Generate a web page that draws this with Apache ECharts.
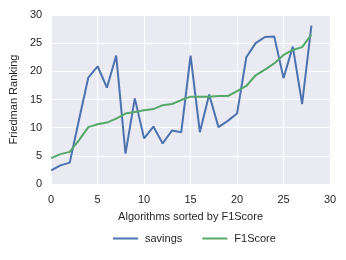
<!DOCTYPE html>
<html><head><meta charset="utf-8">
<script src="https://cdn.jsdelivr.net/npm/echarts@6/dist/echarts.min.js"></script>
<style>html,body{margin:0;padding:0;background:#fff}#c{width:346px;height:260px}</style>
</head><body><div id="c"></div>
<script>
const xValues = [0,1,2,3,4,5,6,7,8,9,10,11,12,13,14,15,16,17,18,19,20,21,22,23,24,25,26,27,28];
const savings = [2.4,3.3,3.8,11.4,18.9,20.9,17.1,22.8,5.4,15.2,8.1,10.2,7.2,9.5,9.2,22.8,9.2,15.9,10.1,11.2,12.5,22.5,25.0,26.1,26.2,18.8,24.4,14.2,28.1];
const f1score = [4.6,5.3,5.7,7.8,10.1,10.6,10.9,11.6,12.5,12.8,13.1,13.3,14.0,14.2,14.9,15.5,15.5,15.5,15.6,15.6,16.5,17.4,19.3,20.3,21.4,22.9,23.8,24.3,26.5];
const seriesNames = ['savings','F1Score'];
const xName = 'Algorithms sorted by F1Score';
const yName = 'Friedman Ranking';

const font = 'Liberation Sans, Arial, sans-serif';
const chart = echarts.init(document.getElementById('c'), null, {renderer:'canvas'});
chart.setOption({
  animation:false,
  backgroundColor:'#fff',
  grid:{left:50,right:16,top:15,bottom:76,show:true,backgroundColor:'#EAEAF2',borderWidth:0},
  legend:{top:228,left:108,itemWidth:25,itemHeight:2,itemGap:20,icon:'rect',
    textStyle:{fontFamily:font,fontSize:11,color:'#262626',padding:[0,0,0,2]},data:seriesNames},
  xAxis:{type:'value',min:0,max:30,interval:5,name:xName,nameLocation:'middle',nameGap:27,
    nameTextStyle:{fontFamily:font,fontSize:11,color:'#262626'},
    axisLine:{show:false},axisTick:{show:false},
    axisLabel:{fontFamily:font,fontSize:11,color:'#262626',margin:10},
    splitLine:{lineStyle:{color:'#fff',width:1}}},
  yAxis:{type:'value',min:0,max:30,interval:5,name:yName,nameLocation:'middle',nameGap:30,
    nameTextStyle:{fontFamily:font,fontSize:11,color:'#262626'},
    axisLine:{show:false},axisTick:{show:false},
    axisLabel:{fontFamily:font,fontSize:11,color:'#262626',margin:9},
    splitLine:{lineStyle:{color:'#fff',width:1}}},
  series:[
    {name:seriesNames[0],type:'line',data:xValues.map((x,i)=>[x,savings[i]]),showSymbol:false,
      lineStyle:{color:'#4C72B0',width:2},itemStyle:{color:'#4C72B0'}},
    {name:seriesNames[1],type:'line',data:xValues.map((x,i)=>[x,f1score[i]]),showSymbol:false,
      lineStyle:{color:'#55A868',width:2},itemStyle:{color:'#55A868'}}
  ]
});
</script></body></html>
